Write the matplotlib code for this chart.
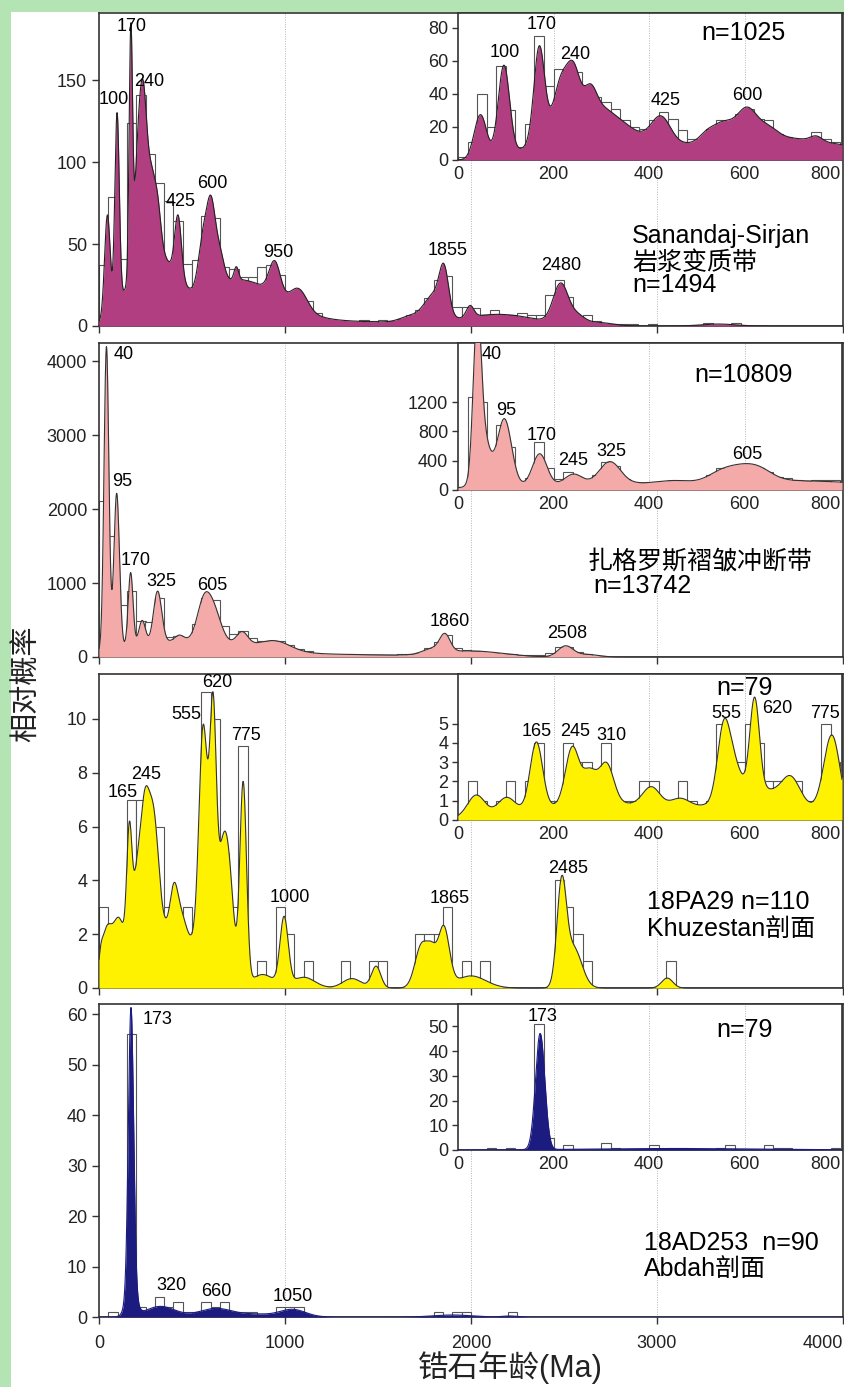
import numpy as np
import matplotlib
matplotlib.use("Agg")
import matplotlib.pyplot as plt
from matplotlib.patches import Rectangle

plt.rcParams["font.family"] = ["Liberation Sans", "Noto Sans CJK SC"]

W, H = 845, 1387

# ---- Sanandaj-Sirjan (panel 1) ----
P1_HIST = [37, 79, 41, 124, 141, 105, 87, 76, 64, 38,
           40, 67, 66, 36, 35, 30, 30, 36, 37, 31,
           18, 17, 15, 8, 3, 2, 2, 2, 3.7, 3,
           3.7, 3, 4, 7, 10, 17, 28, 30.5, 11.8, 11.8,
           11, 7, 10, 6, 6.6, 8, 7, 7, 19, 28,
           18, 6, 6.6, 3, 1, 1, 1, 1.5, 0, 1.5,
           0, 0, 0, 0, 0, 2, 0, 0, 2]
P1_PEAK_AGE = [45, 97, 171, 215, 243, 280, 315, 425, 560, 602, 645, 738, 945, 1075,
               280, 750, 1400, 1680, 1800, 1855, 1995, 2150, 2482, 2570, 2680, 3330]
P1_PEAK_HEIGHT = [62, 117, 145, 75, 60, 40, 25, 38, 32, 44, 20, 8, 20, 12,
                  45, 28, 2.5, 4, 16, 26, 7, 7, 24, 5, 2, 1.2]
P1_PEAK_WIDTH = [15, 12, 9, 22, 18, 20, 18, 18, 25, 22, 25, 12, 30, 45,
                 115, 220, 300, 60, 50, 25, 20, 200, 40, 40, 80, 90]

I1_HIST = [2, 11, 40, 20, 57, 30, 8, 22, 75, 45,
           55, 53, 53, 45, 38, 35, 31, 24, 20, 19,
           24, 29, 25, 18, 13, 12, 19, 24, 23, 28,
           31, 25, 24, 16, 14, 12, 11, 17, 13, 11]
I1_PEAK_AGE = [47, 96, 170, 215, 241, 278, 425, 520, 555, 605, 648, 750, 270, 640]
I1_PEAK_HEIGHT = [27, 55, 55, 22, 24, 11, 16, 4, 10, 17, 6, 3, 33, 14]
I1_PEAK_WIDTH = [13, 12, 11, 14, 13, 12, 20, 15, 22, 20, 20, 12, 75, 180]

# ---- Zagros fold-thrust belt (panel 2) ----
P2_HIST = [2108, 1633, 706, 896, 489, 470, 796, 276, 285, 230,
           443, 796, 774, 425, 310, 357, 253, 215, 213, 215,
           163, 110, 75, 40, 30, 25, 25, 20, 25, 25,
           30, 30, 40, 45, 60, 120, 200, 300, 120, 90,
           75, 60, 50, 45, 40, 30, 30, 30, 60, 140,
           140, 70, 40, 15]
P2_PEAK_AGE = [40, 95, 170, 232, 315, 432, 560, 615, 770, 950, 500,
               1450, 1790, 1860, 2000, 2508, 2620]
P2_PEAK_HEIGHT = [4100, 2100, 1000, 330, 700, 80, 450, 420, 170, 120, 220,
                  25, 70, 230, 80, 145, 35]
P2_PEAK_WIDTH = [13, 15, 13, 18, 22, 25, 35, 40, 30, 80, 350,
                 250, 50, 28, 170, 40, 60]

I2_HIST = [30, 1273, 1205, 500, 886, 582, 100, 168, 650, 300,
           150, 250, 180, 130, 205, 386, 330, 150, 100, 90,
           100, 110, 120, 110, 100, 100, 205, 305, 300, 330,
           340, 300, 250, 180, 160, 140, 120, 130, 140, 140]
I2_PEAK_AGE = [40, 52, 97, 171, 242, 318, 450, 545, 595, 635, 400, 750]
I2_PEAK_HEIGHT = [2000, 700, 920, 430, 140, 300, 30, 60, 215, 60, 90, 80]
I2_PEAK_WIDTH = [8, 14, 15, 15, 18, 22, 30, 25, 40, 25, 280, 150]

# ---- 18PA29 Khuzestan (panel 3) ----
P3_HIST = [3, 2, 2, 7, 7, 6, 6, 3, 2, 3,
           2, 11, 10, 5, 3, 9, 0, 1, 0, 3,
           2, 0, 1, 0, 0, 0, 1, 0, 0, 1,
           1, 0, 0, 0, 2, 2, 2, 3, 0, 1,
           0, 1, 0, 0, 0, 0, 0, 0, 0, 4,
           3, 2, 1, 0, 0, 0, 0, 0, 0, 0,
           0, 1]
P3_PEAK_AGE = [10, 40, 105, 163, 200, 245, 295, 402, 440, 320, 557, 590, 614, 670,
               705, 775, 880, 995, 1100, 1360, 1490, 1735, 1790, 1853, 2000,
               2487, 2550, 3055]
P3_PEAK_HEIGHT = [0.4, 1.8, 1.8, 4.3, 2.0, 4.6, 3.8, 1.3, 1.2, 2.3, 5.3, 5.0, 6.0, 3.5,
                  3.0, 7.5, 0.5, 2.5, 0.4, 0.35, 0.8, 1.6, 1.0, 2.2, 0.45,
                  3.6, 1.5, 0.37]
P3_PEAK_WIDTH = [10, 28, 30, 14, 20, 25, 26, 20, 35, 140, 20, 45, 16, 25,
                 25, 18, 60, 22, 60, 50, 25, 35, 25, 30, 80,
                 25, 45, 30]

I3_HIST = [0, 2, 1, 0, 1, 2, 0, 2, 4, 1,
           1, 4, 3, 3, 2, 4, 1, 1, 1, 2,
           2, 1, 1, 2, 1, 0, 1, 5, 3, 3,
           5, 4, 2, 2, 2, 2, 1, 1, 5, 3]
I3_PEAK_AGE = [38, 101, 164, 239, 275, 311, 405, 465, 300, 556, 578, 621, 640, 697, 783]
I3_PEAK_HEIGHT = [1.1, 0.8, 3.45, 2.9, 1.6, 2.0, 1.0, 0.5, 0.9, 3.6, 1.5, 4.8, 1.5, 1.1, 4.1]
I3_PEAK_WIDTH = [18, 18, 13, 14, 15, 15, 18, 20, 150, 13, 15, 10, 80, 18, 17]

# ---- 18AD253 Abdah (panel 4) ----
P4_HIST = [0, 1, 0, 56, 2, 1, 4, 2, 3, 1,
           1, 3, 2, 3, 1, 1, 1, 0, 0, 2,
           2, 2, 0, 0, 0, 0, 0, 0, 0, 0,
           0, 0, 0, 0, 0, 0, 1, 0, 1, 1,
           0, 0, 0, 0, 1]
P4_PEAK_AGE = [172, 172, 330, 630, 850, 1040, 1900, 2210]
P4_PEAK_HEIGHT = [55, 6, 2.1, 1.7, 0.5, 1.5, 0.4, 0.2]
P4_PEAK_WIDTH = [14, 25, 80, 90, 80, 70, 100, 40]

I4_HIST = [0, 0, 0, 1, 0, 1, 0, 0, 51, 5,
           0, 2, 0, 0, 0, 3, 1, 0, 0, 0,
           2, 0, 1, 1, 0, 0, 0, 1, 2, 0,
           0, 0, 2, 1, 1, 0, 0, 0, 0, 1]
I4_PEAK_AGE = [172, 450]
I4_PEAK_HEIGHT = [47, 0.6]
I4_PEAK_WIDTH = [9.7, 180]


def density(x, ages, heights, widths):
    y = np.zeros_like(x)
    for c, a, s in zip(ages, heights, widths):
        y += a * np.exp(-0.5 * ((x - c) / s) ** 2)
    return y


def box(left, top, right, bottom):
    return [left / W, 1 - bottom / H, (right - left) / W, (bottom - top) / H]


def style(ax, size=13):
    for spine in ax.spines.values():
        spine.set_linewidth(1.2)
        spine.set_color("#333333")
    ax.tick_params(direction="out", length=5, width=1, colors="#333333",
                   labelsize=size, labelcolor="#222222")


def draw_dist(ax, hist, bin_width, peaks, xmax, color, edge):
    edges = np.arange(len(hist)) * bin_width
    ax.bar(edges, hist, width=bin_width, align="edge", facecolor="white",
           edgecolor="#555555", linewidth=0.8, zorder=2)
    x = np.linspace(0, xmax, 4000)
    y = density(x, *peaks)
    ax.fill_between(x, y, color=color, linewidth=0, zorder=3)
    ax.plot(x, y, color=edge, linewidth=0.8, zorder=4)


PANELS = [
    dict(main=(13, 326), inset=(13, 160), ylim=191, yticks=[0, 50, 100, 150],
         ilim=89, iticks=[0, 20, 40, 60, 80], color="#b03e80", edge="#222222",
         hist=P1_HIST, peaks=(P1_PEAK_AGE, P1_PEAK_HEIGHT, P1_PEAK_WIDTH),
         ihist=I1_HIST, ipeaks=(I1_PEAK_AGE, I1_PEAK_HEIGHT, I1_PEAK_WIDTH),
         labels=[("170", 177, 183), ("100", 81, 138), ("240", 269, 149), ("425", 441, 76),
                 ("600", 607, 87), ("950", 966, 45), ("1855", 1875, 46), ("2480", 2484, 37)],
         ilabels=[("100", 98, 65), ("170", 176, 82), ("240", 245, 64), ("425", 434, 36),
                  ("600", 605, 39)],
         n_label=("n=1025", 597, 77),
         names=[("Sanandaj-Sirjan", 2866, 54.9), ("岩浆变质带", 2866, 38.4),
                ("n=1494", 2866, 24.8)]),
    dict(main=(343, 657), inset=(343, 490), ylim=4245, yticks=[0, 1000, 2000, 3000, 4000],
         ilim=2005, iticks=[0, 400, 800, 1200], color="#f3aaa9", edge="#333333",
         hist=P2_HIST, peaks=(P2_PEAK_AGE, P2_PEAK_HEIGHT, P2_PEAK_WIDTH),
         ihist=I2_HIST, ipeaks=(I2_PEAK_AGE, I2_PEAK_HEIGHT, I2_PEAK_WIDTH),
         labels=[("40", 134, 4085), ("95", 122, 2378), ("170", 197, 1311), ("325", 333, 1027),
                 ("605", 608, 964), ("1860", 1888, 477), ("2508", 2517, 324)],
         ilabels=[("40", 70, 1846), ("95", 100, 1078), ("170", 176, 750), ("245", 242, 396),
                  ("325", 322, 523), ("605", 605, 491)],
         n_label=("n=10809", 598, 1569),
         names=[("扎格罗斯褶皱冲断带", 2624, 1284), ("n=13742", 2656, 960)]),
    dict(main=(674, 988), inset=(674, 820), ylim=11.67, yticks=[0, 2, 4, 6, 8, 10],
         ilim=7.57, iticks=[0, 1, 2, 3, 4, 5], color="#fff200", edge="#333333",
         hist=P3_HIST, peaks=(P3_PEAK_AGE, P3_PEAK_HEIGHT, P3_PEAK_WIDTH),
         ihist=I3_HIST, ipeaks=(I3_PEAK_AGE, I3_PEAK_HEIGHT, I3_PEAK_WIDTH),
         labels=[("620", 638, 11.34), ("555", 468, 10.15), ("775", 792, 9.37), ("245", 251, 7.93),
                 ("165", 125, 7.25), ("1000", 1025, 3.38), ("1865", 1885, 3.34),
                 ("2485", 2522, 4.45)],
         ilabels=[("165", 165, 4.6), ("245", 246, 4.6), ("310", 322, 4.4), ("555", 561, 5.53),
                  ("620", 668, 5.8), ("775", 768, 5.53)],
         n_label=("n=79", 599, 6.83),
         names=[("18PA29 n=110", 2946, 3.19), ("Khuzestan剖面", 2946, 2.18)]),
    dict(main=(1004, 1317), inset=(1004, 1150), ylim=62, yticks=[0, 10, 20, 30, 40, 50, 60],
         ilim=59.1, iticks=[0, 10, 20, 30, 40, 50], color="#1b1b80", edge="#1b1b80",
         hist=P4_HIST, peaks=(P4_PEAK_AGE, P4_PEAK_HEIGHT, P4_PEAK_WIDTH),
         ihist=I4_HIST, ipeaks=(I4_PEAK_AGE, I4_PEAK_HEIGHT, I4_PEAK_WIDTH),
         labels=[("173", 313, 58.9), ("320", 387, 6.3), ("660", 633, 5.1), ("1050", 1043, 4.0)],
         ilabels=[("173", 177, 54.2)],
         n_label=("n=79", 599, 48.6),
         names=[("18AD253  n=90", 2930, 14.7), ("Abdah剖面", 2930, 9.5)]),
]

fig = plt.figure(figsize=(W / 100, H / 100), dpi=100, facecolor="#b4e4b4")
fig.patches.append(Rectangle((11 / W, 0), (844 - 11) / W, (H - 12) / H,
                             transform=fig.transFigure, facecolor="white",
                             edgecolor="none", zorder=-10))

for i, p in enumerate(PANELS):
    top, bottom = p["main"]
    ax = fig.add_axes(box(99, top, 843, bottom))
    draw_dist(ax, p["hist"], 50, p["peaks"], 4000, p["color"], p["edge"])
    for gx in (1000, 2000, 3000):
        ax.axvline(gx, color="#b5b5b5", linestyle=(0, (1, 1.5)), linewidth=0.7, zorder=1)
    ax.set_xlim(0, 4000)
    ax.set_ylim(0, p["ylim"])
    ax.set_yticks(p["yticks"])
    ax.set_xticks([0, 1000, 2000, 3000, 4000])
    style(ax)
    if i < 3:
        ax.tick_params(axis="x", labelbottom=False)
    else:
        ax.tick_params(axis="x", pad=8)
        ax.get_xticklabels()[-1].set_ha("right")
    for text, x, y in p["labels"]:
        ax.text(x, y, text, fontsize=13, ha="center", va="center", zorder=6)
    for text, x, y in p["names"]:
        ax.text(x, y, text, fontsize=18, ha="left", va="center", zorder=6)

    itop, ibottom = p["inset"]
    ia = fig.add_axes(box(458, itop, 842, ibottom))
    ia.set_facecolor("white")
    draw_dist(ia, p["ihist"], 20, p["ipeaks"], 804, p["color"], p["edge"])
    for gx in (200, 400, 600):
        ia.axvline(gx, color="#b5b5b5", linestyle=(0, (1, 1.5)), linewidth=0.7, zorder=1)
    ia.set_xlim(0, 804)
    ia.set_ylim(0, p["ilim"])
    ia.set_xticks([0, 200, 400, 600, 800])
    ia.set_yticks(p["iticks"])
    style(ia)
    ia.tick_params(axis="x", length=0, pad=4)
    ia.tick_params(axis="y", length=4, pad=3)
    ia.get_xticklabels()[-1].set_ha("right")
    for text, x, y in p["ilabels"]:
        ia.text(x, y, text, fontsize=13, ha="center", va="center", zorder=6)
    text, x, y = p["n_label"]
    ia.text(x, y, text, fontsize=18, ha="center", va="center", zorder=6)

fig.text(27 / W, 1 - 684 / H, "相对概率", rotation=90, fontsize=21,
         ha="center", va="center", color="#222222")
fig.text(510 / W, 1 - 1368 / H, "锆石年龄(Ma)", fontsize=22,
         ha="center", va="center", color="#222222")

fig.savefig("out.png", dpi=100, facecolor=fig.get_facecolor())
